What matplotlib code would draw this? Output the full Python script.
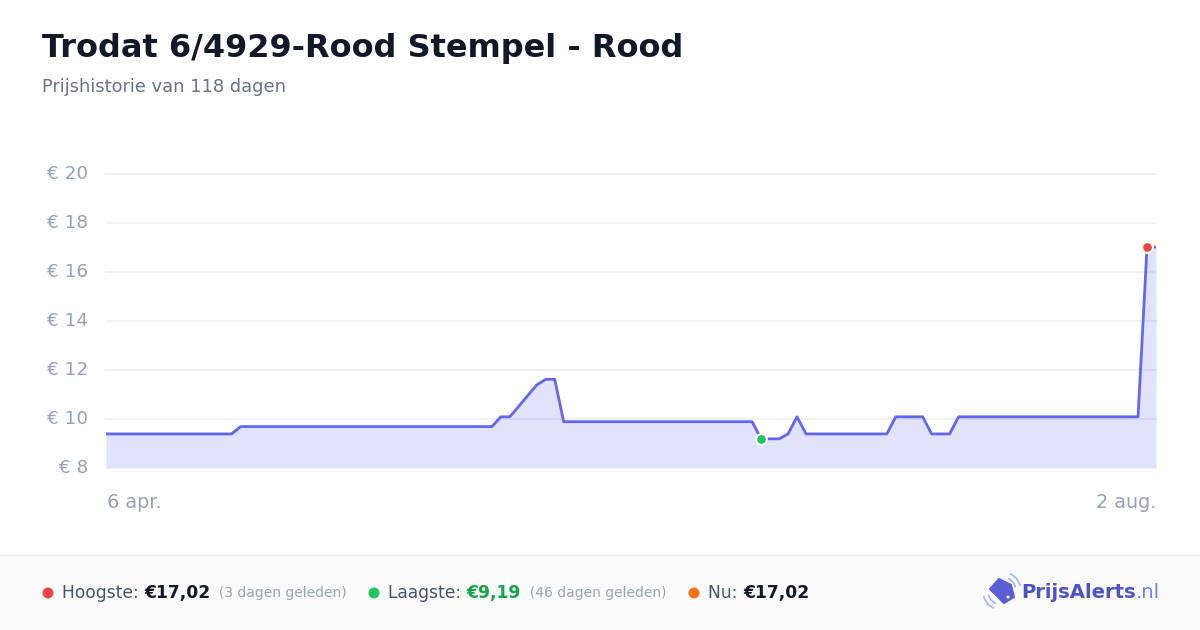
import numpy as np
import matplotlib
matplotlib.use('Agg')
import matplotlib.pyplot as plt
from matplotlib.patches import Rectangle, Polygon, Arc, Circle

plt.rcParams['font.family'] = ['DejaVu Sans']

# price per day, day 0 = 6 apr.
prices = ([9.39] * 15 + [9.69] * 29 + [10.09, 10.09, 10.52, 10.96, 11.39, 11.62, 11.62]
          + [9.89] * 22 + [9.19] * 3 + [9.39, 10.09] + [9.39] * 10 + [10.09] * 4
          + [9.39] * 3 + [10.09] * 21 + [17.02, 17.02])
days = np.arange(len(prices))
y_ticks = [8, 10, 12, 14, 16, 18, 20]
x_labels = ['6 apr.', '2 aug.']
low_idx = 73
high_idx = 116

title = 'Trodat 6/4929-Rood Stempel - Rood'
subtitle = 'Prijshistorie van 118 dagen'

W, H = 1200, 630
fig = plt.figure(figsize=(12, 6.3), dpi=100)
fig.patch.set_facecolor('white')

# overlay in pixel coordinates for the texts and footer
ov = fig.add_axes([0, 0, 1, 1], zorder=0)
ov.set_xlim(0, W)
ov.set_ylim(H, 0)
ov.axis('off')

# plot area in pixels: left 106, right 1156, top 174 (=20), bottom 468 (=8)
ax = fig.add_axes([106 / W, 1 - 468 / H, (1156 - 106) / W, (468 - 174) / H], zorder=1)
ax.patch.set_alpha(0)
ax.fill_between(days, prices, 8, color='#6366f1', alpha=0.19, linewidth=0)
ax.plot(days, prices, color='#6366f1', linewidth=2, solid_joinstyle='round', zorder=3)
ax.scatter([days[low_idx]], [prices[low_idx]], s=60, color='#22c55e', edgecolor='white',
           linewidth=1.5, zorder=5, clip_on=False)
ax.scatter([days[high_idx]], [prices[high_idx]], s=60, color='#ef4444', edgecolor='white',
           linewidth=1.5, zorder=5, clip_on=False)
ax.set_xlim(0, len(prices) - 1)
ax.set_ylim(8, 20)
for v in y_ticks[1:]:
    ax.axhline(v, color='#efeff1', linewidth=1.2, zorder=0, clip_on=False)
ax.axhline(8, color='#e2e4e9', linewidth=1.5, zorder=4)
for s in ax.spines.values():
    s.set_visible(False)
ax.set_xticks([])
ax.set_yticks([])
for v in y_ticks:
    ax.text(-18 / 1050 * (len(prices) - 1), v, '€ %d' % v, ha='right', va='center',
            fontsize=13.2, color='#94a3b8', clip_on=False)

ov.text(107, 503, x_labels[0], ha='left', va='center', fontsize=13.8, color='#94a3b8')
ov.text(1156, 503, x_labels[1], ha='right', va='center', fontsize=13.8, color='#94a3b8')

ov.text(42, 48, title, ha='left', va='center', fontsize=23.0, fontweight='bold',
        color='#111827')
ov.text(42, 87, subtitle, ha='left', va='center', fontsize=12.9, color='#64748b')

# footer
ov.add_patch(Rectangle((0, 555), W, H - 555, facecolor='#fafafa', edgecolor='none'))
ov.plot([0, W], [555, 555], color='#f0f0f0', linewidth=1)

renderer = fig.canvas.get_renderer()

def run(x, parts):
    for txt, size, weight, col in parts:
        t = ov.text(x, 593, txt, ha='left', va='center', fontsize=size,
                    fontweight=weight, color=col)
        x += t.get_window_extent(renderer).width
    return x

def dot(x, col):
    ov.add_patch(Circle((x, 593), 5.5, facecolor=col, edgecolor='none'))

dot(48, '#ef4444')
run(62, [('Hoogste: ', 12.3, 'normal', '#475569'), ('€17,02', 12.3, 'bold', '#111827'),
         ('  (3 dagen geleden)', 10, 'normal', '#9ca3af')])
dot(374, '#22c55e')
run(388, [('Laagste: ', 12.3, 'normal', '#475569'), ('€9,19', 12.3, 'bold', '#16a34a'),
          ('  (46 dagen geleden)', 10, 'normal', '#9ca3af')])
dot(694, '#f97316')
run(708, [('Nu: ', 12.3, 'normal', '#475569'), ('€17,02', 12.3, 'bold', '#111827')])

# logo: tag with signal arcs
tag = [(990, 589), (999, 579), (1011, 585), (1014, 597), (1004, 603)]
ov.add_patch(Polygon(tag, closed=True, facecolor='#5b5fd6', edgecolor='#5b5fd6',
                     linewidth=1.5, joinstyle='round'))
ov.add_patch(Circle((1008, 597), 1.5, facecolor='white', edgecolor='none'))
for r in (14, 19):
    ov.add_patch(Arc((1002, 591), r * 2, r * 2, theta1=115, theta2=165, color='#a5b4fc',
                     linewidth=1.2))
    ov.add_patch(Arc((1002, 591), r * 2, r * 2, theta1=-65, theta2=-15, color='#a5b4fc',
                     linewidth=1.2))
t = ov.text(1021, 593, 'PrijsAlerts', ha='left', va='center', fontsize=14.1,
            fontweight='bold', color='#4f52c4')
x_end = 1021 + t.get_window_extent(renderer).width
ov.text(x_end, 593, '.nl', ha='left', va='center', fontsize=14.1, color='#6b82e6')

fig.savefig('out.png', dpi=100, facecolor='white')
